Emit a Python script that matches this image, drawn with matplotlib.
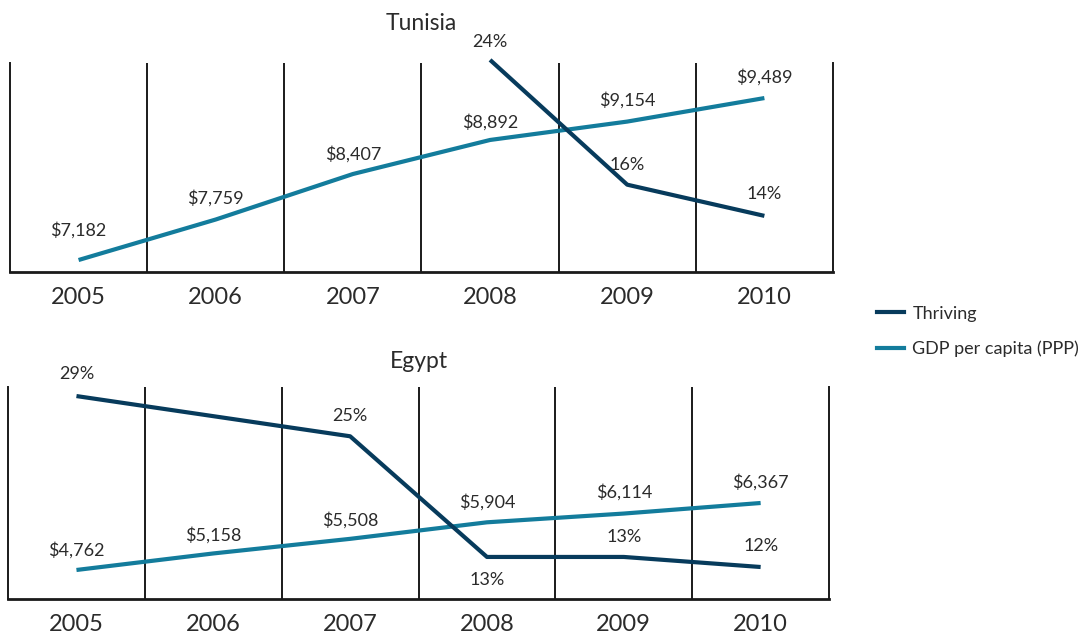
import matplotlib
matplotlib.use("Agg")
from matplotlib import pyplot as plt
from matplotlib.lines import Line2D

plt.rcParams['font.family'] = ['Lato', 'DejaVu Sans']

years = ['2005', '2006', '2007', '2008', '2009', '2010']

tunisia_gdp = [7182, 7759, 8407, 8892, 9154, 9489]
tunisia_thriving = [None, None, None, 24, 16, 14]

egypt_gdp = [4762, 5158, 5508, 5904, 6114, 6367]
egypt_thriving = [29, None, 25, 13, 13, 12]

THRIVING_COLOR = '#073b5c'
GDP_COLOR = '#137c9c'
TEXT_COLOR = '#2b2b2b'


def draw_panel(ax, title, title_pad, gdp, thriving, gdp_lim, thr_lim, gdp_offsets, thr_offsets):
    x = list(range(len(years)))
    ax.set_xlim(-0.5, len(years) - 0.5)
    ax.set_ylim(*gdp_lim)

    # separators between the year slots
    for k in range(1, len(years)):
        ax.axvline(k - 0.5, color='#1a1a1a', lw=1.4, zorder=1)

    ax.spines['top'].set_visible(False)
    for side in ['left', 'right']:
        ax.spines[side].set_linewidth(1.4)
        ax.spines[side].set_color('#1a1a1a')
    ax.spines['bottom'].set_linewidth(2.0)
    ax.spines['bottom'].set_color('#1a1a1a')

    ax.set_xticks(x)
    ax.set_xticklabels(years, fontsize=17, color=TEXT_COLOR)
    ax.tick_params(axis='x', length=0, pad=11)
    ax.set_yticks([])
    ax.set_title(title, fontsize=16.5, color=TEXT_COLOR, pad=title_pad)

    ax.plot(x, gdp, color=GDP_COLOR, lw=3, solid_capstyle='butt', zorder=3)
    for xi, v, off in zip(x, gdp, gdp_offsets):
        ax.annotate(f'${v:,}', (xi, v), xytext=(0, off), textcoords='offset pixels',
                    ha='center', va='center', fontsize=13, color=TEXT_COLOR,
                    annotation_clip=False)

    ax2 = ax.twinx()
    ax2.set_ylim(*thr_lim)
    ax2.set_yticks([])
    for side in ['top', 'left', 'right', 'bottom']:
        ax2.spines[side].set_visible(False)
    tx = [xi for xi, v in zip(x, thriving) if v is not None]
    ty = [v for v in thriving if v is not None]
    ax2.plot(tx, ty, color=THRIVING_COLOR, lw=3, solid_capstyle='butt', zorder=3, clip_on=False)
    for xi, v, off in zip(tx, ty, thr_offsets):
        ax2.annotate(f'{v}%', (xi, v), xytext=(0, off), textcoords='offset pixels',
                     ha='center', va='center', fontsize=13, color=TEXT_COLOR,
                     annotation_clip=False)
    return ax2


fig = plt.figure(figsize=(10.87, 6.36), dpi=100)

ax_top = fig.add_axes([0.0092, 0.5723, 0.7571, 0.3286])
draw_panel(ax_top, 'Tunisia', 24, tunisia_gdp, tunisia_thriving,
           (7011, 9988), (10.4, 23.8),
           [30, 21, 20, 18, 21, 21], [18, 20, 22])

ax_bot = fig.add_axes([0.0074, 0.0582, 0.7553, 0.3333])
draw_panel(ax_bot, 'Egypt', 14, egypt_gdp, egypt_thriving,
           (4067, 9146), (8.82, 29.9),
           [20, 18, 19, 20, 21, 21], [22, 20, -23, 20, 21])

handles = [Line2D([], [], color=THRIVING_COLOR, lw=3),
           Line2D([], [], color=GDP_COLOR, lw=3)]
fig.legend(handles, ['Thriving', 'GDP per capita (PPP)'], loc='center left',
           bbox_to_anchor=(0.807, 0.479), frameon=False, fontsize=13,
           handlelength=1.5, handletextpad=0.45, labelspacing=1.05, borderpad=0,
           borderaxespad=0, labelcolor=TEXT_COLOR)

fig.savefig('out.png', dpi=100)
